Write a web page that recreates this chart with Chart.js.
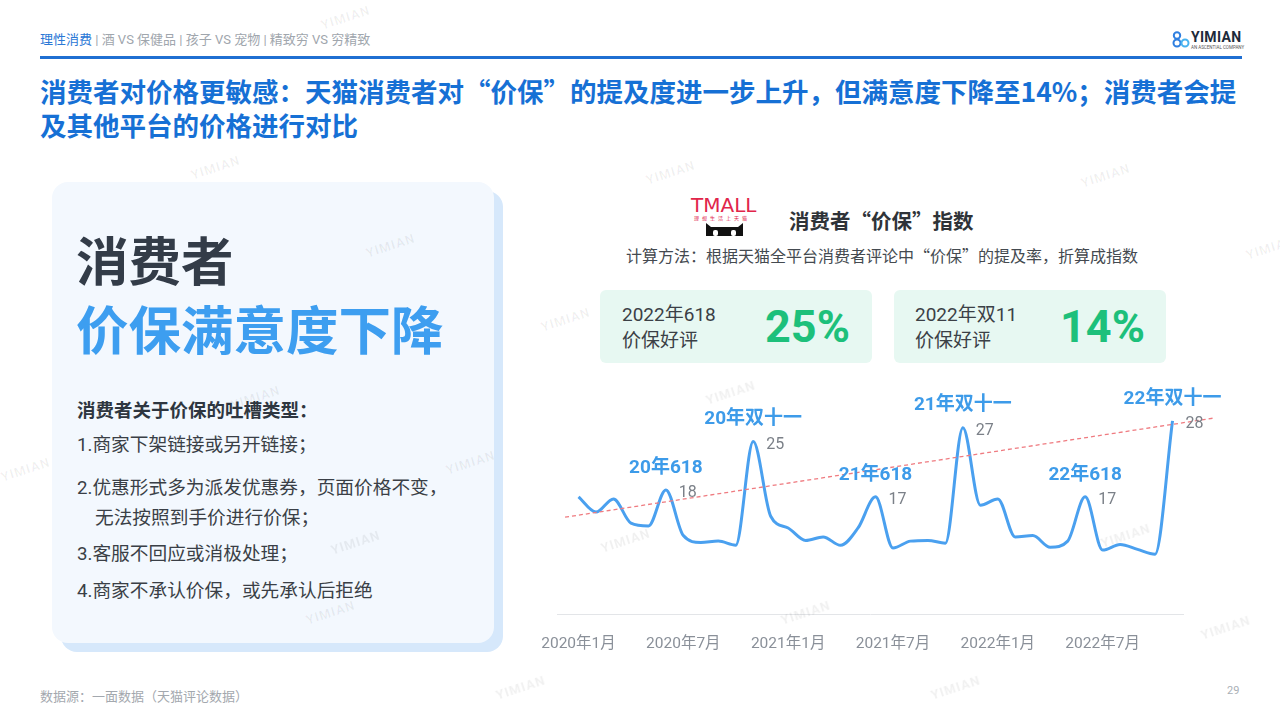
<!DOCTYPE html>
<html lang="zh">
<head>
<meta charset="utf-8">
<script src="https://cdn.jsdelivr.net/npm/chart.js@4.4.1/dist/chart.umd.min.js"></script>
<style>
  html, body { margin: 0; padding: 0; }
  body { width: 1280px; height: 720px; position: relative; overflow: hidden; background: #ffffff;
         font-family: Roboto, "Noto Sans CJK SC", "Noto Sans", sans-serif; }
  .abs { position: absolute; white-space: nowrap; }
  .cjk { font-family: "Noto Sans CJK SC", "Noto Sans", sans-serif; }
  .wm { position: absolute; color: rgba(0,0,0,0.06); font-size: 13px; font-weight: 700; transform: rotate(-18deg); letter-spacing: 1px; }
</style>
</head>
<body>
<script>
// ---------- DATA ----------
const monthLabels = ['2020年1月','2020年2月','2020年3月','2020年4月','2020年5月','2020年6月','2020年7月','2020年8月','2020年9月','2020年10月','2020年11月','2020年12月',
                     '2021年1月','2021年2月','2021年3月','2021年4月','2021年5月','2021年6月','2021年7月','2021年8月','2021年9月','2021年10月','2021年11月','2021年12月',
                     '2022年1月','2022年2月','2022年3月','2022年4月','2022年5月','2022年6月','2022年7月','2022年8月','2022年9月','2022年10月','2022年11月'];
const indexValues = [17.0, 14.8, 16.7, 13.2, 12.8, 18, 11.4, 10.4, 10.6, 10.0, 25, 14.2,
                     12.5, 10.7, 11.2, 10.0, 12.5, 17, 9.6, 10.6, 10.7, 10.3, 27, 15.8,
                     16.7, 11.2, 11.4, 9.7, 10.6, 17, 9.3, 10.1, 9.4, 8.7, 28];
const tickMonths = [0, 6, 12, 18, 24, 30];
const tickLabels = ['2020年1月', '2020年7月', '2021年1月', '2021年7月', '2022年1月', '2022年7月'];
const peakIndex = [5, 10, 17, 22, 29, 34];
const peakNames = ['20年618', '20年双十一', '21年618', '21年双十一', '22年618', '22年双十一'];
const peakValues = [18, 25, 17, 27, 17, 28];
const trendX = [-0.77, 36.36];
const trendY = [14.06, 28.4];
</script>

<!-- header -->
<div class="abs" style="left:40px; top:32px; font-size:13px; line-height:16px; color:#a0a6ad;">
  <span style="color:#2a78d6;">理性消费</span> | 酒 VS 保健品 | 孩子 VS 宠物 | 精致穷 VS 穷精致
</div>
<div class="abs" style="left:40px; top:56px; width:1202px; height:3px; background:#1f6fd2;"></div>

<!-- logo -->
<svg class="abs" style="left:1172px; top:31px;" width="18" height="17" viewBox="0 0 18 17">
  <circle cx="5" cy="4.5" r="3.2" fill="none" stroke="#2f7fe0" stroke-width="2"/>
  <circle cx="5" cy="12" r="3.5" fill="none" stroke="#2f7fe0" stroke-width="2"/>
  <circle cx="13" cy="12" r="3.5" fill="none" stroke="#47b2f0" stroke-width="2"/>
</svg>
<div class="abs" style="left:1191px; top:29px; font-size:14px; font-weight:700; line-height:17px; color:#1d2a3a; letter-spacing:0.3px;">YIMIAN</div>
<div class="abs" style="left:1191px; top:45px; font-size:4.5px; line-height:5px; color:#555;">AN ASCENTIAL COMPANY</div>

<!-- title -->
<div class="abs cjk" style="left:40px; top:74px; font-size:26.5px; font-weight:700; line-height:34px; color:#1670d5;">
  消费者对价格更敏感：天猫消费者对“价保”的提及度进一步上升，但满意度下降至14%；消费者会提<br>及其他平台的价格进行对比
</div>

<!-- left card -->
<div class="abs" style="left:52px; top:182px; width:442px; height:461px; background:#f3f8fe; border-radius:16px; box-shadow:9px 9px 0 #d6e8fb;"></div>
<div class="abs cjk" style="left:76px; top:226px; font-size:52.5px; font-weight:700; line-height:64px; color:#333c48;">消费者</div>
<div class="abs cjk" style="left:76px; top:295px; font-size:52.5px; font-weight:700; line-height:64px; color:#3d9ef0;">价保满意度下降</div>
<div class="abs cjk" style="left:77px; top:397px; font-size:18.5px; font-weight:700; line-height:24px; color:#2e3640;">消费者关于价保的吐槽类型：</div>
<div class="abs" style="left:77px; top:433px; font-size:18.7px; line-height:24px; color:#3a3f46;">1.商家下架链接或另开链接；</div>
<div class="abs" style="left:77px; top:476px; font-size:18.7px; line-height:24px; color:#3a3f46;">2.优惠形式多为派发优惠券，页面价格不变，</div>
<div class="abs" style="left:95px; top:506px; font-size:18.7px; line-height:24px; color:#3a3f46;">无法按照到手价进行价保；</div>
<div class="abs" style="left:77px; top:542px; font-size:18.7px; line-height:24px; color:#3a3f46;">3.客服不回应或消极处理；</div>
<div class="abs" style="left:77px; top:579px; font-size:18.7px; line-height:24px; color:#3a3f46;">4.商家不承认价保，或先承认后拒绝</div>

<!-- TMALL logo -->
<div class="abs" style="left:691px; top:195px; font-size:20px; line-height:21px; color:#e1254a; font-family:'DejaVu Sans', sans-serif;">TMALL</div>
<div class="abs" style="left:694px; top:215px; font-size:5px; line-height:6px; color:#e1254a; letter-spacing:3px;">理想生活上天猫</div>
<svg class="abs" style="left:706px; top:222px;" width="37" height="14" viewBox="0 0 37 14">
  <path d="M0 14 L0 1 L5 5 L32 5 L37 1 L37 14 Z" fill="#111"/>
  <rect x="7" y="8" width="5" height="6" rx="2" fill="#fff"/>
  <rect x="25" y="8" width="5" height="6" rx="2" fill="#fff"/>
</svg>
<div class="abs cjk" style="left:789px; top:206px; font-size:20.5px; font-weight:700; line-height:28px; color:#2f3338;">消费者“价保”指数</div>
<div class="abs cjk" style="left:626px; top:244px; font-size:16px; line-height:22px; color:#444a50;">计算方法：根据天猫全平台消费者评论中“价保”的提及率，折算成指数</div>

<!-- KPI boxes -->
<div class="abs" style="left:600px; top:290px; width:272px; height:73px; background:#e7f8f2; border-radius:6px;"></div>
<div class="abs" style="left:622px; top:302px; font-size:19px; line-height:26px; color:#3b4046;">2022年618</div>
<div class="abs" style="left:622px; top:328px; font-size:19px; line-height:26px; color:#3b4046;">价保好评</div>
<div class="abs" style="left:765px; top:300px; font-size:45px; font-weight:700; line-height:54px; color:#1dc07b;">25%</div>
<div class="abs" style="left:894px; top:290px; width:272px; height:73px; background:#e7f8f2; border-radius:6px;"></div>
<div class="abs" style="left:915px; top:302px; font-size:19px; line-height:26px; color:#3b4046;">2022年双11</div>
<div class="abs" style="left:915px; top:328px; font-size:19px; line-height:26px; color:#3b4046;">价保好评</div>
<div class="abs" style="left:1060px; top:300px; font-size:45px; font-weight:700; line-height:54px; color:#1dc07b;">14%</div>

<!-- chart -->
<div class="abs" style="left:520px; top:370px; width:720px; height:304px;">
  <canvas id="c"></canvas>
</div>

<!-- footer -->
<div class="abs cjk" style="left:40px; top:688px; font-size:13px; line-height:16px; color:#a3a8ae;">数据源：一面数据（天猫评论数据）</div>
<div class="abs" style="left:1227px; top:684px; font-size:11px; line-height:14px; color:#aab0b6;">29</div>

<!-- watermarks -->
<div class="wm" style="left:320px; top:10px;">YIMIAN</div>
<div class="wm" style="left:645px; top:165px;">YIMIAN</div>
<div class="wm" style="left:1080px; top:168px;">YIMIAN</div>
<div class="wm" style="left:190px; top:160px;">YIMIAN</div>
<div class="wm" style="left:365px; top:238px;">YIMIAN</div>
<div class="wm" style="left:540px; top:312px;">YIMIAN</div>
<div class="wm" style="left:705px; top:385px;">YIMIAN</div>
<div class="wm" style="left:230px; top:390px;">YIMIAN</div>
<div class="wm" style="left:445px; top:455px;">YIMIAN</div>
<div class="wm" style="left:0px; top:462px;">YIMIAN</div>
<div class="wm" style="left:1245px; top:240px;">YIMIAN</div>
<div class="wm" style="left:600px; top:533px;">YIMIAN</div>
<div class="wm" style="left:1100px; top:528px;">YIMIAN</div>
<div class="wm" style="left:330px; top:535px;">YIMIAN</div>
<div class="wm" style="left:305px; top:605px;">YIMIAN</div>
<div class="wm" style="left:780px; top:605px;">YIMIAN</div>
<div class="wm" style="left:1200px; top:620px;">YIMIAN</div>
<div class="wm" style="left:495px; top:680px;">YIMIAN</div>
<div class="wm" style="left:930px; top:680px;">YIMIAN</div>

<script>
const peakLabelPlugin = {
  id: 'peakLabels',
  afterDatasetsDraw(chart) {
    const ctx = chart.ctx;
    const meta = chart.getDatasetMeta(0);
    ctx.save();
    peakIndex.forEach((idx, k) => {
      const pt = meta.data[idx];
      if (!pt) return;
      ctx.textBaseline = 'middle';
      ctx.textAlign = 'center';
      ctx.font = 'bold 19px Roboto, "Noto Sans CJK SC", sans-serif';
      ctx.fillStyle = '#3d9be9';
      ctx.fillText(peakNames[k], pt.x, pt.y - 22);
      ctx.textAlign = 'left';
      ctx.font = '16px Roboto, "Noto Sans CJK SC", sans-serif';
      ctx.fillStyle = '#7b8088';
      ctx.fillText(String(peakValues[k]), pt.x + 13, pt.y + 3);
    });
    ctx.restore();
  }
};

new Chart(document.getElementById('c'), {
  type: 'line',
  data: {
    datasets: [
      {
        label: '消费者“价保”指数',
        data: indexValues.map((v, i) => ({ x: i, y: v })),
        borderColor: '#4aa0ef',
        borderWidth: 3,
        pointRadius: 0,
        cubicInterpolationMode: 'monotone',
        fill: false,
        clip: false,
        order: 1
      },
      {
        label: '趋势',
        data: trendX.map((x, i) => ({ x: x, y: trendY[i] })),
        borderColor: '#ef7b80',
        borderWidth: 1.3,
        borderDash: [4, 3],
        pointRadius: [0, 4.5],
        pointStyle: 'triangle',
        pointRotation: 81,
        pointBackgroundColor: '#ef6a70',
        pointBorderColor: '#ef6a70',
        pointBorderWidth: 0,
        tension: 0,
        fill: false,
        clip: false,
        order: 0
      }
    ]
  },
  options: {
    responsive: true,
    maintainAspectRatio: false,
    animation: false,
    layout: { padding: { left: 37, right: 57, top: 37, bottom: 1 } },
    plugins: { legend: { display: false }, tooltip: { enabled: false } },
    scales: {
      x: {
        type: 'linear',
        min: -1.2,
        max: 34.6,
        grid: { display: false, drawTicks: false },
        border: { display: true, color: '#e3e5e8', width: 1 },
        afterBuildTicks: (scale) => { scale.ticks = tickMonths.map(v => ({ value: v })); },
        ticks: {
          padding: 20,
          autoSkip: false,
          maxRotation: 0,
          color: '#8a9099',
          font: { size: 15.5, family: 'Roboto, "Noto Sans CJK SC", sans-serif' },
          callback: (value, index) => tickLabels[index]
        }
      },
      y: {
        display: false,
        min: 0,
        max: 30
      }
    }
  },
  plugins: [peakLabelPlugin]
});
</script>
</body>
</html>
